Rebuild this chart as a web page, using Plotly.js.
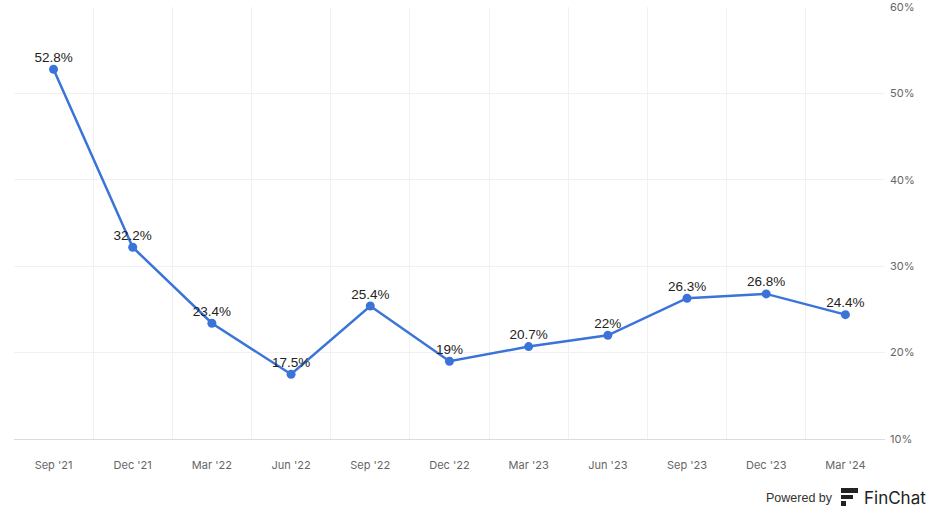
<!DOCTYPE html>
<html>
<head>
<meta charset="utf-8">
<script src="https://cdn.plot.ly/plotly-3.0.1.min.js"></script>
<style>html,body{margin:0;padding:0;background:#fff;}#chart{width:935px;height:517px;}</style>
</head>
<body>
<div id="chart"></div>
<script>
const categories = ["Sep '21","Dec '21","Mar '22","Jun '22","Sep '22","Dec '22","Mar '23","Jun '23","Sep '23","Dec '23","Mar '24"];
const values = [52.8, 32.2, 23.4, 17.5, 25.4, 19, 20.7, 22, 26.3, 26.8, 24.4];
const yTickVals = [10, 20, 30, 40, 50, 60];
const yTickText = ["10%","20%","30%","40%","50%","60%"];
const labels = values.map(v => v + "%");

const lineTrace = {
  x: categories,
  y: values,
  type: 'scatter',
  mode: 'lines+markers',
  line: {color: '#3a74d8', width: 2.5},
  marker: {color: '#3a74d8', size: 9},
  hoverinfo: 'none',
  cliponaxis: false
};
const textTrace = {
  x: categories,
  y: values,
  type: 'scatter',
  mode: 'markers+text',
  marker: {size: 5, color: 'rgba(0,0,0,0)'},
  text: labels,
  textposition: 'top center',
  textfont: {family: '"Liberation Sans", Arial, sans-serif', size: 13.5, color: '#222'},
  hoverinfo: 'none',
  cliponaxis: false
};

const layout = {
  width: 935, height: 517,
  margin: {l: 14, r: 50, t: 7, b: 78},
  paper_bgcolor: '#fff', plot_bgcolor: '#fff',
  showlegend: false,
  font: {family: 'Inter, "Open Sans", sans-serif', color: '#555'},
  xaxis: {
    type: 'category',
    range: [-0.499, 10.5],
    tickson: 'boundaries',
    showgrid: true, gridcolor: '#f1f1f1', gridwidth: 1,
    ticks: '', ticklabelstandoff: 16,
    tickfont: {size: 11, color: '#666'},
    showline: true, linecolor: '#dcdcdc', linewidth: 1,
    zeroline: false, fixedrange: true
  },
  yaxis: {
    side: 'right',
    range: [10, 60.02],
    tickvals: yTickVals, ticktext: yTickText,
    showgrid: true, gridcolor: '#f1f1f1', gridwidth: 1,
    ticks: '', ticklabelstandoff: 4,
    tickfont: {size: 11, color: '#666'},
    showline: false,
    zeroline: false, fixedrange: true
  },
  annotations: [
    {xref: 'paper', yref: 'paper', x: (835-14)/871, y: -59/432, xanchor: 'right', yanchor: 'middle',
     text: 'Powered by', showarrow: false, font: {family: '"Liberation Sans", Arial, sans-serif', size: 12.5, color: '#333'}},
    {xref: 'paper', yref: 'paper', x: (862-14)/871, y: -59/432, xanchor: 'left', yanchor: 'middle',
     text: 'FinChat', showarrow: false, font: {family: 'Inter, "Liberation Sans", sans-serif', size: 17, color: '#222'}}
  ],
  shapes: [
    {type: 'rect', xref: 'paper', yref: 'paper', x0: (841-14)/871, x1: (858-14)/871, y0: (439-493)/432, y1: (439-488)/432, fillcolor: '#222', line: {width: 0}},
    {type: 'rect', xref: 'paper', yref: 'paper', x0: (841-14)/871, x1: (853-14)/871, y0: (439-499)/432, y1: (439-495)/432, fillcolor: '#222', line: {width: 0}},
    {type: 'rect', xref: 'paper', yref: 'paper', x0: (841-14)/871, x1: (846-14)/871, y0: (439-506)/432, y1: (439-501)/432, fillcolor: '#222', line: {width: 0}}
  ]
};

Plotly.newPlot('chart', [lineTrace, textTrace], layout, {displayModeBar: false, staticPlot: true});
</script>
</body>
</html>
